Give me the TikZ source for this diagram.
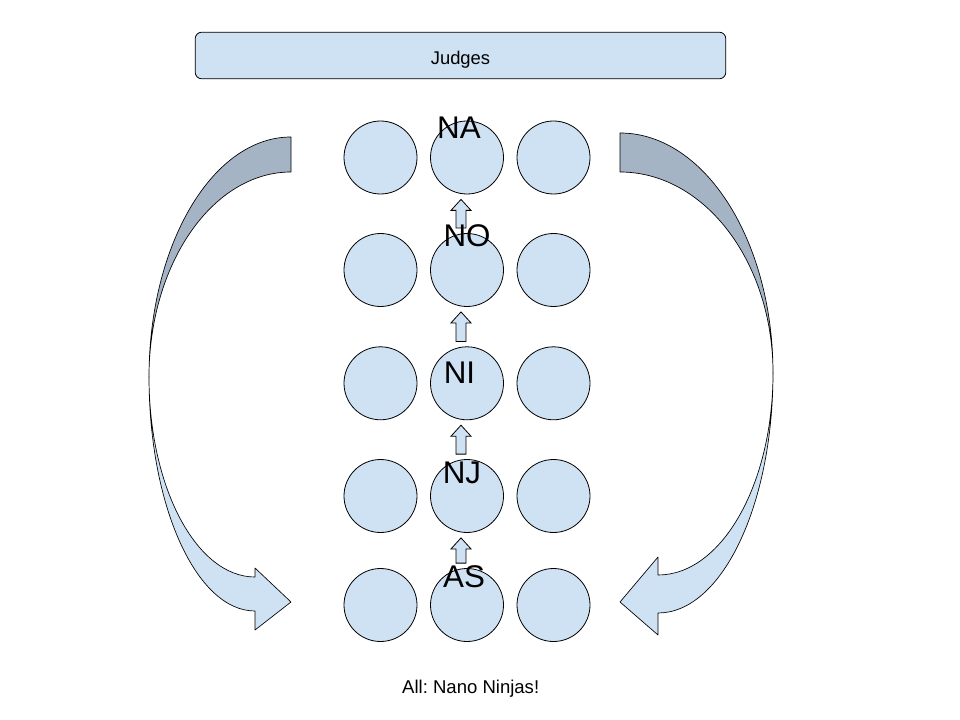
\documentclass[tikz,border=0pt]{standalone}
\usepackage{fontspec}
\setmainfont{Liberation Sans}
\usetikzlibrary{calc}
\definecolor{paleblue}{HTML}{CFE2F3}
\definecolor{shadeblue}{HTML}{A4B4C4}
\frenchspacing
\tikzset{
  seat/.style={circle,draw,fill=paleblue,minimum size=54.75pt,inner sep=0pt,line width=0.6pt},
  tag/.style={inner sep=0pt,font=\fontsize{23.5}{26}\selectfont},
  panel/.style={draw,fill=paleblue,rounded corners=5pt,line width=0.6pt,minimum width=398pt,minimum height=35pt,text height=13pt,text depth=0pt,font=\fontsize{13.8}{16}\selectfont},
  blockarrow/.style={draw,fill=paleblue,line width=0.6pt,line join=miter},
  ribbon/.style={draw,line width=0.5pt,line join=round}
}
% block arrow from the circle #1 up to the circle #2
\newcommand\liftarrow[2]{%
  \draw[blockarrow] ($(#2.south)+(-6,5)$) -- ++(10,11) -- ++(-5,0)
    |- ($(#1.north)+(-11,-5)$) |- ($(#2.south)+(-16,16)$) -- cycle;}
\begin{document}
\begin{tikzpicture}[x=0.75pt,y=-0.75pt]
\useasboundingbox (0,0) rectangle (960,720);

\node[panel] (judges) at (460.5,55.5) {Judges};

% left turn
\draw[ribbon,fill=paleblue] (149,377) .. controls (149,506.2) and (196.5,611) .. (255,611)
  -- (255,630) -- (291,602) -- (255,568) -- (255,577)
  .. controls (196.5,577) and (149,487.5) .. (149,377) -- cycle;
\draw[ribbon,fill=shadeblue] (291,137) -- (291,172)
  .. controls (212.6,172) and (149,263.8) .. (149,377)
  .. controls (149,244.4) and (212.6,137) .. (291,137) -- cycle;

% right turn
\draw[ribbon,fill=paleblue] (773,373) .. controls (773,505.6) and (721.5,613) .. (658,613)
  -- (658,635) -- (620,602) -- (658,557) -- (658,575)
  .. controls (721.5,575) and (773,484.6) .. (773,373) -- cycle;
\draw[ribbon,fill=shadeblue] (620,133) -- (620,172)
  .. controls (704.5,172) and (773,262) .. (773,373)
  .. controls (773,240.4) and (704.5,133) .. (620,133) -- cycle;

\node[seat] (na1) at (380.5,157.5) {};
\node[seat] (na2) at (467,157.5) {};
\node[seat] (na3) at (553.5,157.5) {};
\node[seat] (no1) at (380.5,270) {};
\node[seat] (no2) at (467,270) {};
\node[seat] (no3) at (553.5,270) {};
\node[seat] (ni1) at (380.5,383.3) {};
\node[seat] (ni2) at (467,383.3) {};
\node[seat] (ni3) at (553.5,383.3) {};
\node[seat] (nj1) at (380.5,496) {};
\node[seat] (nj2) at (467,496) {};
\node[seat] (nj3) at (553.5,496) {};
\node[seat] (as1) at (380.5,605) {};
\node[seat] (as2) at (467,605) {};
\node[seat] (as3) at (553.5,605) {};

\liftarrow{no2}{na2}
\liftarrow{ni2}{no2}
\liftarrow{nj2}{ni2}
\liftarrow{as2}{nj2}

\node[tag] (natag) at (459,128) {NA};
\node[tag] (notag) at (467,236) {NO};
\node[tag] (nitag) at (459.5,373) {NI};
\node[tag] (njtag) at (462,472.5) {NJ};
\node[tag] (astag) at (464,576.7) {AS};

\node[anchor=base,font=\fontsize{13.9}{16}\selectfont] (motto) at (470.7,693) {All: Nano Ninjas!};
\end{tikzpicture}
\end{document}
